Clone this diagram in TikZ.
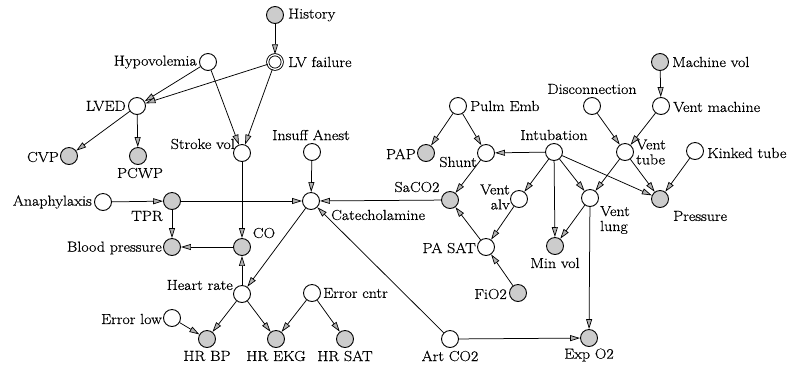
\documentclass[tikz,border=0pt]{standalone}
\usepackage{fontspec}
\setmainfont{Latin Modern Roman}[FakeStretch=1.1,FakeBold=0.6]
\usetikzlibrary{arrows.meta}
\begin{document}
\begin{tikzpicture}[x=1pt,y=-1pt,
  var/.style={circle,draw,line width=0.9pt,minimum size=17pt,inner sep=0pt,fill=white},
  obs/.style={var,fill=gray!40},
  hidden2/.style={var,double,double distance=1.3pt,minimum size=14.5pt},
  lab/.style={font=\fontsize{14.5}{15}\selectfont,inner sep=0pt},
  edge/.style={line width=0.75pt,-{Triangle[length=10pt,width=6pt,fill=gray!60,line width=0.7pt]}}]
\useasboundingbox (0,0) rectangle (794,368);

% variables
\node[obs] (history) at (275,15) {};
\node[hidden2] (lvfail) at (275,62) {};
\node[var] (hypo) at (208,62) {};
\node[var] (lved) at (137,106) {};
\node[obs] (cvp) at (69,156) {};
\node[obs] (pcwp) at (138,156) {};
\node[var] (stroke) at (242,153) {};
\node[var] (insuff) at (312,152) {};
\node[var] (catech) at (311,201) {};
\node[var] (anaph) at (103,202) {};
\node[obs] (tpr) at (172,201) {};
\node[obs] (bp) at (172,247) {};
\node[obs] (co) at (242,247) {};
\node[var] (hr) at (242,294) {};
\node[var] (errcntr) at (312,293) {};
\node[var] (errlow) at (172,318) {};
\node[obs] (hrbp) at (207,339) {};
\node[obs] (hrekg) at (276,339) {};
\node[obs] (hrsat) at (345,339) {};
\node[var] (artco2) at (450,339) {};
\node[obs] (expo2) at (589,338) {};
\node[obs] (fio2) at (518,293) {};
\node[var] (pasat) at (486,247) {};
\node[obs] (minvol) at (555,246) {};
\node[var] (ventalv) at (519,199) {};
\node[obs] (saco2) at (450,200) {};
\node[var] (ventlung) at (590,198) {};
\node[obs] (pressure) at (660,199) {};
\node[obs] (pap) at (426,153) {};
\node[var] (shunt) at (486,153) {};
\node[var] (pulmemb) at (458,106) {};
\node[var] (intub) at (554,152) {};
\node[var] (venttube) at (625,152) {};
\node[var] (kinked) at (695,151) {};
\node[var] (disconn) at (592,106) {};
\node[var] (ventmach) at (661,106) {};
\node[obs] (machvol) at (660,62) {};

% names of the variables
\node[lab,anchor=west] (history-t) at (288,15) {History};
\node[lab,anchor=west] (lvfail-t) at (288,62) {LV failure};
\node[lab,anchor=east] (hypo-t) at (197,62) {Hypovolemia};
\node[lab,anchor=east] (lved-t) at (126,106) {LVED};
\node[lab,anchor=east] (cvp-t) at (59,157) {CVP};
\node[lab] (pcwp-t) at (140,173) {PCWP};
\node[lab,anchor=east] (stroke-t) at (235,144) {Stroke vol};
\node[lab] (insuff-t) at (311,135) {Insuff Anest};
\node[lab,anchor=east] (pap-t) at (416,154) {PAP};
\node[lab,anchor=east] (shunt-t) at (477,162) {Shunt};
\node[lab,anchor=west] (pulmemb-t) at (470,106) {Pulm Emb};
\node[lab] (intub-t) at (554,135) {Intubation};
\node[lab,anchor=west,align=left] (venttube-t) at (636,152) {Vent\\tube};
\node[lab,anchor=west] (kinked-t) at (707,153) {Kinked tube};
\node[lab] (disconn-t) at (592,89) {Disconnection};
\node[lab,anchor=west] (ventmach-t) at (673,107) {Vent machine};
\node[lab,anchor=west] (machvol-t) at (672,62) {Machine vol};
\node[lab] (saco2-t) at (417,187) {SaCO2};
\node[lab,anchor=west] (catech-t) at (331,215) {Catecholamine};
\node[lab,anchor=east,align=right] (ventalv-t) at (510,197) {Vent\\alv};
\node[lab,anchor=west,align=left] (ventlung-t) at (600,220) {Vent\\lung};
\node[lab,anchor=west] (pressure-t) at (673,216) {Pressure};
\node[lab,anchor=east] (anaph-t) at (92,202) {Anaphylaxis};
\node[lab] (tpr-t) at (147,216) {TPR};
\node[lab,anchor=east] (bp-t) at (162,248) {Blood pressure};
\node[lab] (co-t) at (264,233) {CO};
\node[lab,anchor=east] (pasat-t) at (476,248) {PA SAT};
\node[lab] (minvol-t) at (555,263) {Min vol};
\node[lab,anchor=east] (fio2-t) at (507,294) {FiO2};
\node[lab,anchor=east] (hr-t) at (233,285) {Heart rate};
\node[lab,anchor=west] (errcntr-t) at (323,293) {Error cntr};
\node[lab,anchor=east] (errlow-t) at (162,319) {Error low};
\node[lab] (hrbp-t) at (207,356) {HR BP};
\node[lab] (hrekg-t) at (276,356) {HR EKG};
\node[lab] (hrsat-t) at (345,356) {HR SAT};
\node[lab] (artco2-t) at (450,356) {Art CO2};
\node[lab] (expo2-t) at (589,355) {Exp O2};

% dependencies
\foreach \a/\b in {history/lvfail, hypo/lved, lvfail/lved, hypo/stroke, lvfail/stroke,
  lved/cvp, lved/pcwp, stroke/co, insuff/catech, anaph/tpr, tpr/catech, tpr/bp,
  co/bp, hr/co, catech/hr, saco2/catech, artco2/catech, hr/hrbp, hr/hrekg,
  errlow/hrbp, errcntr/hrekg, errcntr/hrsat, artco2/expo2, ventlung/expo2,
  pulmemb/pap, pulmemb/shunt, intub/shunt, shunt/saco2, pasat/saco2,
  ventalv/pasat, fio2/pasat, intub/ventalv, intub/minvol, intub/ventlung,
  intub/pressure, venttube/ventlung, venttube/pressure, kinked/pressure,
  disconn/venttube, ventmach/venttube, machvol/ventmach, ventlung/minvol}
  \draw[edge] (\a) -- (\b);
\end{tikzpicture}
\end{document}
